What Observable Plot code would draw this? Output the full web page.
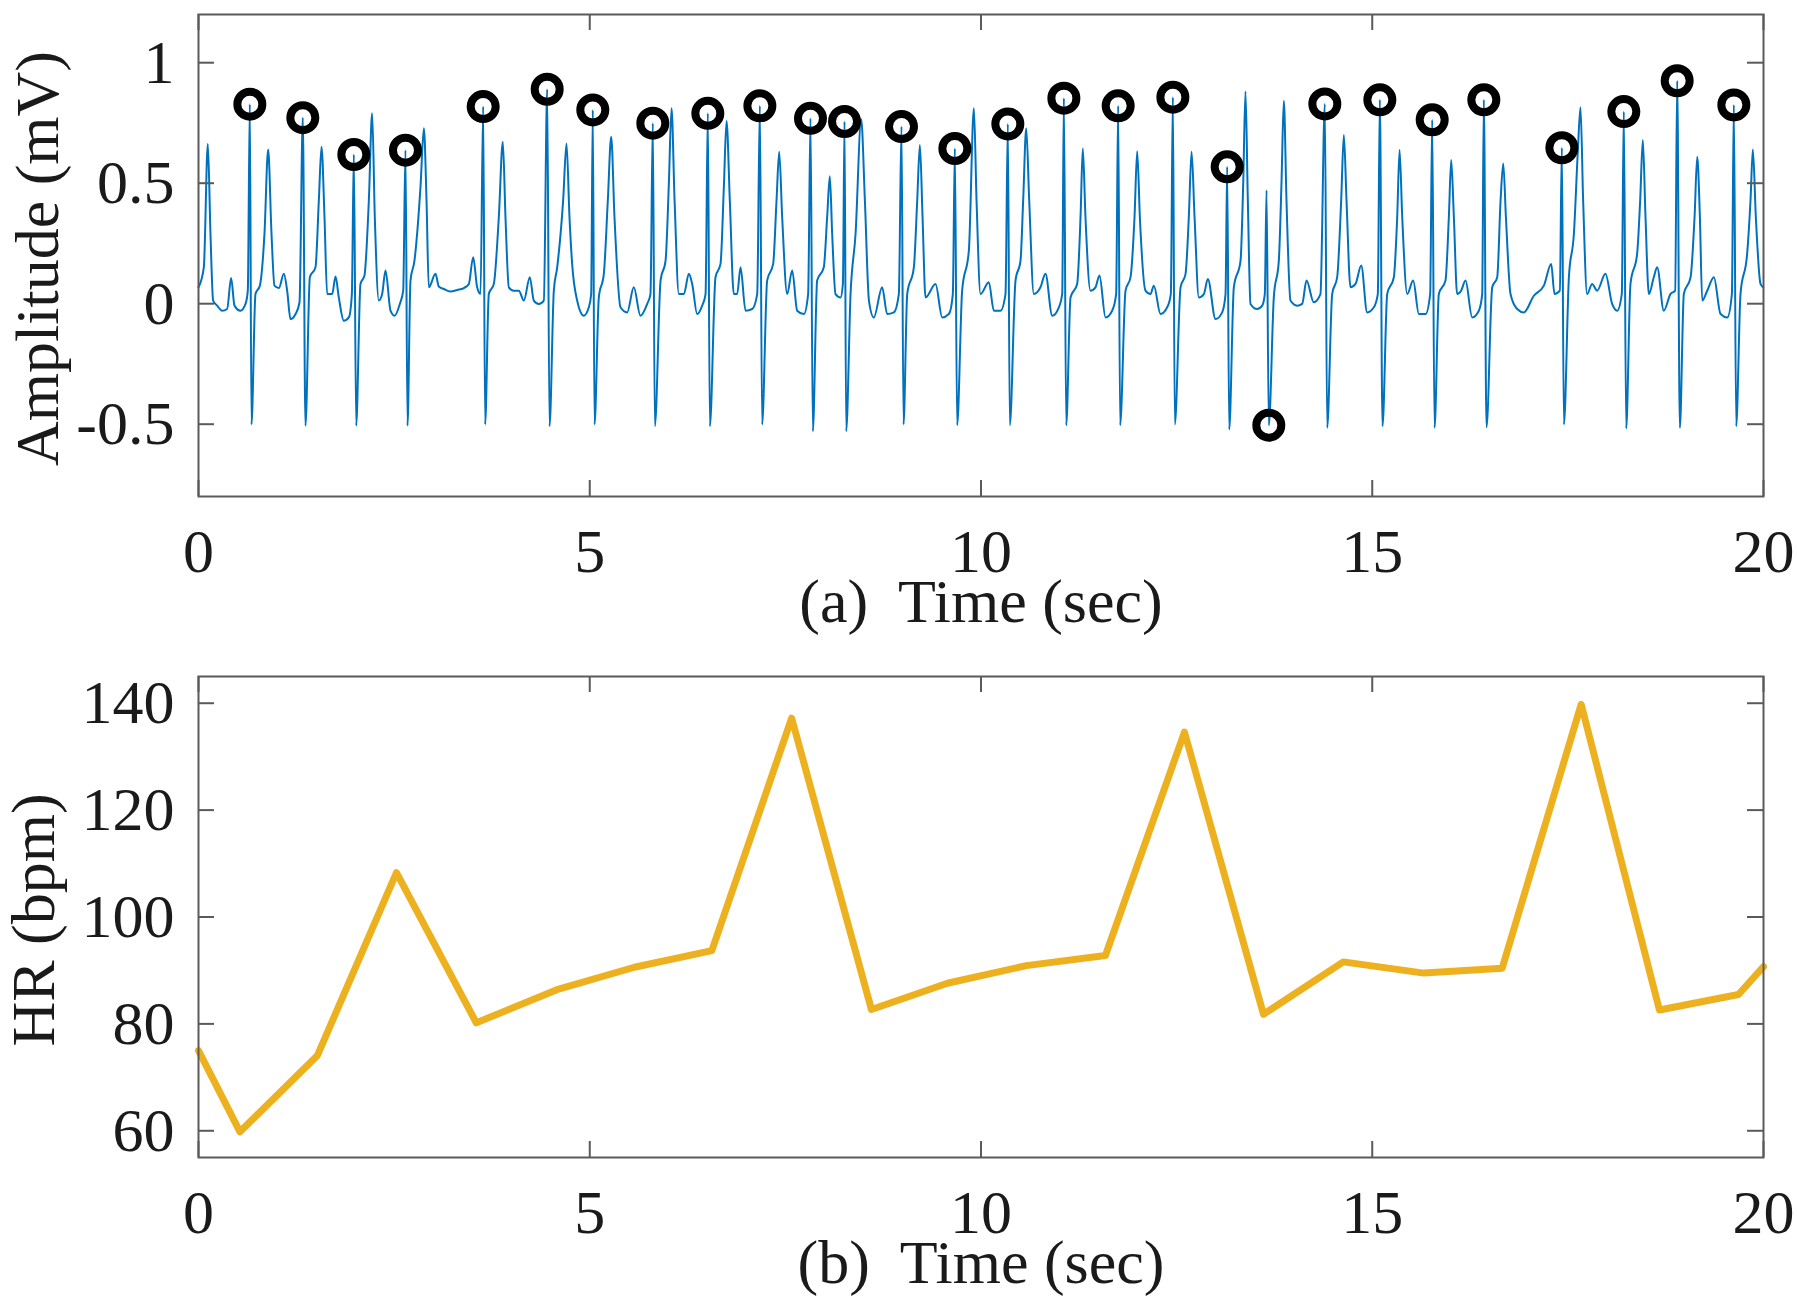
<!DOCTYPE html>
<html>
<head>
<meta charset="utf-8">
<script src="https://cdn.jsdelivr.net/npm/d3@7"></script>
<script src="https://cdn.jsdelivr.net/npm/@observablehq/plot@0.6"></script>
<style>
  html, body { margin: 0; padding: 0; background: #ffffff; }
  #chart { width: 1797px; }
  #chart svg { display: block; }
</style>
</head>
<body>
<div id="chart"></div>
<script>
// ---------- data ----------
// (a) ECG trace vertices: [time (s), amplitude (mV)]
const ecgSamples = [
  [0.000,0.068],[0.068,0.151],[0.119,0.663],[0.153,0.290],[0.187,0.013],[0.239,-0.008],[0.302,-0.029],[0.366,-0.022],
  [0.417,0.107],[0.460,-0.008],[0.537,-0.029],[0.601,-0.001],[0.630,0.054],[0.656,0.828],[0.677,-0.501],[0.728,0.040],
  [0.784,0.075],[0.843,0.290],[0.890,0.640],[0.933,0.290],[0.971,0.075],[1.027,0.065],[1.091,0.124],[1.133,0.054],
  [1.176,-0.064],[1.240,-0.043],[1.291,0.006],[1.333,0.772],[1.367,-0.506],[1.423,0.110],[1.495,0.151],[1.538,0.429],
  [1.572,0.651],[1.610,0.360],[1.644,0.040],[1.708,0.040],[1.751,0.113],[1.793,0.026],[1.857,-0.071],[1.921,-0.057],
  [1.960,0.040],[1.985,0.619],[2.015,-0.506],[2.070,0.082],[2.121,0.117],[2.177,0.429],[2.219,0.790],[2.253,0.360],
  [2.305,0.013],[2.347,0.040],[2.390,0.138],[2.454,-0.029],[2.505,-0.050],[2.573,-0.001],[2.616,0.054],[2.645,0.637],
  [2.671,-0.506],[2.709,0.096],[2.760,0.179],[2.837,0.485],[2.880,0.728],[2.914,0.429],[2.943,0.068],[3.029,0.124],
  [3.071,0.071],[3.135,0.061],[3.220,0.051],[3.306,0.057],[3.391,0.065],[3.455,0.082],[3.510,0.193],[3.561,0.068],
  [3.604,0.040],[3.638,0.818],[3.663,-0.501],[3.710,0.040],[3.774,0.082],[3.838,0.360],[3.889,0.672],[3.923,0.360],
  [3.966,0.068],[4.030,0.054],[4.094,0.054],[4.158,0.013],[4.234,0.110],[4.285,0.013],[4.349,-0.001],[4.413,0.013],
  [4.456,0.890],[4.486,-0.508],[4.541,0.054],[4.584,0.151],[4.660,0.429],[4.703,0.665],[4.741,0.360],[4.775,0.165],
  [4.839,0.013],[4.924,-0.050],[4.988,-0.015],[5.018,0.040],[5.039,0.804],[5.061,-0.501],[5.116,0.026],[5.180,0.124],
  [5.231,0.429],[5.274,0.693],[5.316,0.360],[5.393,-0.015],[5.478,-0.036],[5.563,0.068],[5.648,-0.050],[5.734,-0.001],
  [5.776,0.040],[5.806,0.749],[5.832,-0.508],[5.905,0.096],[5.969,0.179],[6.011,0.499],[6.045,0.811],[6.084,0.429],
  [6.139,0.040],[6.203,0.040],[6.266,0.124],[6.309,0.082],[6.373,-0.043],[6.437,-0.008],[6.480,0.040],[6.509,0.790],
  [6.535,-0.508],[6.607,0.110],[6.671,0.165],[6.714,0.485],[6.748,0.758],[6.790,0.429],[6.841,0.040],[6.884,0.040],
  [6.927,0.151],[6.991,-0.029],[7.076,-0.022],[7.140,0.040],[7.174,0.821],[7.203,-0.501],[7.267,0.096],[7.344,0.165],
  [7.387,0.429],[7.421,0.631],[7.459,0.360],[7.523,0.040],[7.587,0.138],[7.651,-0.029],[7.736,-0.043],[7.791,0.040],
  [7.821,0.769],[7.851,-0.529],[7.906,0.096],[7.991,0.151],[8.034,0.360],[8.068,0.529],[8.098,0.290],[8.141,0.040],
  [8.205,0.026],[8.235,0.082],[8.256,0.756],[8.277,-0.529],[8.333,0.040],[8.397,0.290],[8.469,0.765],[8.516,0.429],
  [8.568,0.013],[8.630,-0.057],[8.737,0.068],[8.801,-0.043],[8.886,-0.036],[8.950,0.040],[8.984,0.735],[9.010,-0.501],
  [9.057,0.040],[9.142,0.151],[9.185,0.429],[9.219,0.658],[9.253,0.360],[9.291,0.026],[9.419,0.082],[9.504,-0.057],
  [9.589,-0.043],[9.640,0.040],[9.666,0.644],[9.695,-0.504],[9.759,0.054],[9.845,0.221],[9.909,0.811],[9.943,0.429],
  [9.994,0.040],[10.100,0.089],[10.164,-0.029],[10.249,-0.029],[10.313,0.040],[10.343,0.746],[10.368,-0.504],[10.441,0.096],
  [10.505,0.179],[10.539,0.429],[10.578,0.728],[10.616,0.429],[10.675,0.040],[10.760,0.068],[10.824,0.124],[10.910,-0.050],
  [10.995,-0.015],[11.038,0.040],[11.059,0.853],[11.089,-0.504],[11.144,0.026],[11.229,0.082],[11.272,0.360],[11.301,0.644],
  [11.335,0.360],[11.399,0.054],[11.463,0.068],[11.514,0.117],[11.591,-0.057],[11.676,-0.029],[11.727,0.040],[11.753,0.821],
  [11.778,-0.504],[11.847,0.054],[11.911,0.110],[11.962,0.360],[11.996,0.633],[12.030,0.360],[12.102,0.054],[12.166,0.040],
  [12.209,0.075],[12.294,-0.043],[12.379,-0.015],[12.426,0.040],[12.452,0.857],[12.477,-0.501],[12.550,0.068],[12.614,0.124],
  [12.656,0.360],[12.691,0.631],[12.729,0.360],[12.784,0.026],[12.848,0.040],[12.899,0.103],[12.997,-0.064],[13.082,-0.036],
  [13.125,0.040],[13.146,0.568],[13.172,-0.522],[13.231,0.068],[13.317,0.179],[13.351,0.499],[13.380,0.881],[13.410,0.429],
  [13.444,-0.001],[13.529,-0.022],[13.593,-0.008],[13.627,0.040],[13.649,0.471],[13.678,-0.504],[13.742,0.026],[13.806,0.179],
  [13.840,0.499],[13.870,0.842],[13.904,0.429],[13.955,0.013],[14.040,-0.008],[14.104,-0.001],[14.160,0.096],[14.253,0.006],
  [14.338,0.040],[14.394,0.829],[14.424,-0.515],[14.488,0.040],[14.552,0.110],[14.603,0.429],[14.637,0.700],[14.671,0.429],
  [14.722,0.068],[14.786,0.082],[14.859,0.158],[14.935,-0.036],[15.020,-0.015],[15.071,0.040],[15.097,0.846],[15.131,-0.508],
  [15.191,0.040],[15.276,0.110],[15.319,0.360],[15.349,0.638],[15.383,0.360],[15.447,0.040],[15.523,0.096],[15.596,-0.043],
  [15.681,-0.043],[15.740,0.040],[15.766,0.763],[15.796,-0.515],[15.851,0.040],[15.936,0.096],[15.979,0.360],[16.009,0.596],
  [16.043,0.360],[16.085,0.040],[16.136,0.054],[16.192,0.096],[16.277,-0.057],[16.362,-0.029],[16.405,0.040],[16.426,0.846],
  [16.460,-0.513],[16.533,0.068],[16.597,0.110],[16.640,0.429],[16.674,0.582],[16.708,0.360],[16.767,0.040],[16.852,-0.022],
  [16.937,-0.036],[17.065,0.033],[17.193,0.075],[17.287,0.165],[17.329,0.040],[17.397,0.054],[17.423,0.647],[17.449,-0.501],
  [17.513,0.110],[17.577,0.290],[17.628,0.638],[17.661,0.815],[17.695,0.429],[17.746,0.040],[17.810,0.082],[17.874,0.054],
  [17.980,0.124],[18.066,-0.001],[18.130,-0.029],[18.189,0.040],[18.215,0.797],[18.245,-0.518],[18.300,0.082],[18.385,0.207],
  [18.424,0.429],[18.458,0.679],[18.492,0.360],[18.535,0.040],[18.598,0.110],[18.641,0.151],[18.726,-0.029],[18.811,0.040],
  [18.871,0.054],[18.897,0.925],[18.931,-0.515],[18.982,0.040],[19.068,0.110],[19.119,0.360],[19.153,0.610],[19.187,0.360],
  [19.217,0.013],[19.281,0.054],[19.366,0.110],[19.451,-0.043],[19.537,-0.057],[19.596,0.040],[19.621,0.825],[19.651,-0.508],
  [19.706,0.040],[19.791,0.207],[19.834,0.429],[19.864,0.640],[19.902,0.360],[19.962,0.082],[19.996,0.068]
];

// (a) detected peaks (black rings)
const peakTime = [0.656,1.333,1.985,2.645,3.638,4.456,5.039,5.806,6.509,7.174,7.821,8.256,8.984,9.666,
                  10.343,11.059,11.753,12.452,13.146,13.678,14.394,15.097,15.766,16.426,17.423,18.215,18.897,19.621];
const peakAmp  = [0.828,0.772,0.619,0.637,0.818,0.890,0.804,0.749,0.790,0.821,0.769,0.756,0.735,0.644,
                  0.746,0.853,0.821,0.857,0.568,-0.504,0.829,0.846,0.763,0.846,0.647,0.797,0.925,0.825];

// (b) heart rate
const hrTime  = [0, 0.53, 1.52, 2.53, 3.55, 4.58, 5.57, 6.56, 7.58, 8.60, 9.57, 10.58, 11.59, 12.60,
                 13.61, 14.63, 15.66, 16.66, 17.67, 18.67, 19.68, 20.0];
const hrValue = [75.0, 59.8, 74.1, 108.3, 80.2, 86.4, 90.6, 93.7, 137.2, 82.7, 87.6, 90.9, 92.8, 134.6,
                 81.8, 91.6, 89.5, 90.4, 139.8, 82.6, 85.5, 90.7];

// ticks & labels
const timeTicks = [0, 5, 10, 15, 20];
const ampTicks = [-0.5, 0, 0.5, 1];
const hrTicks = [60, 80, 100, 120, 140];
const labelA = "(a)\u00a0 Time (sec)";
const labelB = "(b)\u00a0 Time (sec)";
const yLabelA = "Amplitude (mV)";
const yLabelB = "HR (bpm)";

// ---------- drawing ----------
const W = 1797, ML = 198, MR = 34;
const FW = W - ML - MR;
const FONT = "'Liberation Serif', 'Times New Roman', Times, serif";
const FS = 62;
const AXIS_COLOR = "#5a5a5a";
const TEXT_COLOR = "#1a1a1a";
const TICK_LEN = 16;

function frameTicks(xt, yt, fh) {
  const s = {stroke: AXIS_COLOR, strokeWidth: 2};
  return [
    Plot.tickX(xt, {x: d => d, insetTop: fh - TICK_LEN, ...s}),
    Plot.tickX(xt, {x: d => d, insetBottom: fh - TICK_LEN, ...s}),
    Plot.tickY(yt, {y: d => d, insetRight: FW - TICK_LEN, ...s}),
    Plot.tickY(yt, {y: d => d, insetLeft: FW - TICK_LEN, ...s})
  ];
}

function panel({height, mt, mb, yDomain, yTicks, marks, xLabel, yLabel, labelDx}) {
  const fh = height - mt - mb;
  return Plot.plot({
    width: W, height,
    marginLeft: ML, marginRight: MR, marginTop: mt, marginBottom: mb,
    style: {fontFamily: FONT, fontSize: FS + "px", color: TEXT_COLOR, background: "#ffffff", overflow: "visible"},
    x: {domain: [0, 20]},
    y: {domain: yDomain},
    marks: [
      ...marks,
      Plot.frame({stroke: AXIS_COLOR, strokeWidth: 2}),
      ...frameTicks(timeTicks, yTicks, fh),
      Plot.axisX({ticks: timeTicks, anchor: "bottom", tickSize: 0, tickPadding: 31, fontSize: FS,
                  fontFamily: FONT, tickFormat: d => String(d), label: null}),
      Plot.axisY({ticks: yTicks, anchor: "left", tickSize: 0, tickPadding: 24, fontSize: FS,
                  fontFamily: FONT, tickFormat: d => String(d), label: null}),
      Plot.text([xLabel], {text: d => d, frameAnchor: "bottom", dy: 106, lineAnchor: "middle",
                           textAnchor: "middle", fontSize: FS, fontFamily: FONT, fill: TEXT_COLOR}),
      Plot.text([yLabel], {text: d => d, frameAnchor: "left", rotate: -90, dx: labelDx, dy: 3,
                           lineAnchor: "middle", textAnchor: "middle",
                           fontSize: FS, fontFamily: FONT, fill: TEXT_COLOR})
    ]
  });
}

const ecgIdx = d3.range(ecgSamples.length);
const peakIdx = d3.range(peakTime.length);
const hrIdx = d3.range(hrTime.length);

const topPanel = panel({
  height: 640, mt: 14, mb: 144,
  yDomain: [-0.8, 1.2], yTicks: ampTicks,
  xLabel: labelA, yLabel: yLabelA, labelDx: -160,
  marks: [
    Plot.line(ecgIdx, {x: i => ecgSamples[i][0], y: i => ecgSamples[i][1], curve: "monotone-x",
                       stroke: "#0072BD", strokeWidth: 2, strokeLinejoin: "round"}),
    Plot.dot(peakIdx, {x: i => peakTime[i], y: i => peakAmp[i], r: 12.5,
                       stroke: "#000000", strokeWidth: 8, fill: "none"})
  ]
});

const bottomPanel = panel({
  height: 666, mt: 36, mb: 149,
  yDomain: [55, 145], yTicks: hrTicks,
  xLabel: labelB, yLabel: yLabelB, labelDx: -164,
  marks: [
    Plot.line(hrIdx, {x: i => hrTime[i], y: i => hrValue[i],
                      stroke: "#EDB120", strokeWidth: 7, strokeLinejoin: "round"})
  ]
});

const chartEl = document.getElementById("chart");
chartEl.appendChild(topPanel);
chartEl.appendChild(bottomPanel);
</script>
</body>
</html>
